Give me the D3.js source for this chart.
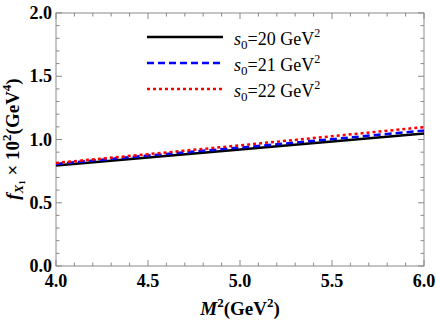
<!DOCTYPE html>
<html>
<head>
<meta charset="utf-8">
<script src="https://cdn.jsdelivr.net/npm/d3@7"></script>
<style>
body { margin: 0; background: #fff; }
</style>
</head>
<body>
<script>
// M^2 values and the three curves (s0 = 20, 21, 22 GeV^2)
let m2 = [4.0, 4.5, 5.0, 5.5, 6.0];
let f20 = [0.794, 0.858, 0.921, 0.984, 1.047];
let f21 = [0.807, 0.873, 0.936, 1.003, 1.071];
let f22 = [0.815, 0.884, 0.954, 1.026, 1.098];
let s0 = ["20", "21", "22"];
let xTicks = [4.0, 4.5, 5.0, 5.5, 6.0];
let yTicks = [0.0, 0.5, 1.0, 1.5, 2.0];

let width = 436;
let height = 327;
let plotL = 56, plotR = 424, plotT = 13, plotB = 266;

let svg = d3.select("body")
    .append("svg")
    .attr("width", width)
    .attr("height", height)
    .style("font-family", "'Liberation Serif', serif");

let scaleX = d3.scaleLinear().domain([4, 6]).range([plotL, plotR]);
let scaleY = d3.scaleLinear().domain([0, 2]).range([plotB, plotT]);

let frameColor = "#8a8a8a";

// minor + major ticks on all four sides
let minorX = d3.range(40, 61).map(d => d / 10);
let minorY = d3.range(0, 21).map(d => d / 10);

function isMajor(v) { return Math.abs(v * 2 - Math.round(v * 2)) < 1e-6; }

let ticks = svg.append("g").attr("stroke", frameColor).attr("stroke-width", 1);
minorX.forEach(v => {
    let len = isMajor(v) ? 6 : 3.5;
    let x = scaleX(v);
    ticks.append("line").attr("x1", x).attr("x2", x).attr("y1", plotB).attr("y2", plotB - len);
    ticks.append("line").attr("x1", x).attr("x2", x).attr("y1", plotT).attr("y2", plotT + len);
});
minorY.forEach(v => {
    let len = isMajor(v) ? 6 : 3.5;
    let y = scaleY(v);
    ticks.append("line").attr("x1", plotL).attr("x2", plotL + len).attr("y1", y).attr("y2", y);
    ticks.append("line").attr("x1", plotR).attr("x2", plotR - len).attr("y1", y).attr("y2", y);
});

svg.append("rect")
    .attr("x", plotL).attr("y", plotT)
    .attr("width", plotR - plotL).attr("height", plotB - plotT)
    .attr("fill", "none").attr("stroke", frameColor).attr("stroke-width", 1);

// tick labels
svg.append("g").selectAll("text").data(xTicks).join("text")
    .attr("x", d => scaleX(d))
    .attr("y", 287)
    .attr("text-anchor", "middle")
    .attr("font-size", 18).attr("font-weight", "bold")
    .text(d => d.toFixed(1));
svg.append("g").selectAll("text").data(yTicks).join("text")
    .attr("x", plotL - 4)
    .attr("y", d => scaleY(d) + 6)
    .attr("text-anchor", "end")
    .attr("font-size", 18).attr("font-weight", "bold")
    .text(d => d.toFixed(1));

// curves
let series = [
    { v: f20, color: "#000", dash: null },
    { v: f21, color: "#0000ff", dash: "7,4" },
    { v: f22, color: "#ff0000", dash: "3,3" }
];
let line = d3.line().x(d => scaleX(d[0])).y(d => scaleY(d[1])).curve(d3.curveMonotoneX);
series.forEach(s => {
    svg.append("path")
        .datum(m2.map((x, i) => [x, s.v[i]]))
        .attr("d", line)
        .attr("fill", "none")
        .attr("stroke", s.color)
        .attr("stroke-width", 2.5)
        .attr("stroke-dasharray", s.dash);
});

// legend
let legendY = [37, 63, 89];
series.forEach((s, i) => {
    svg.append("line")
        .attr("x1", 147).attr("x2", 223)
        .attr("y1", legendY[i]).attr("y2", legendY[i])
        .attr("stroke", s.color).attr("stroke-width", 2.5)
        .attr("stroke-dasharray", s.dash);
    let t = svg.append("text")
        .attr("x", 234).attr("y", legendY[i] + 8)
        .attr("font-size", 18);
    t.append("tspan").attr("font-style", "italic").text("s");
    t.append("tspan").attr("font-size", 13).attr("dy", 4).text("0");
    t.append("tspan").attr("dy", -4).text("=" + s0[i] + " GeV");
    t.append("tspan").attr("font-size", 12).attr("dy", -8).text("2");
});

// x axis label
let xl = svg.append("text")
    .attr("x", 240).attr("y", 315)
    .attr("text-anchor", "middle")
    .attr("font-size", 19).attr("font-weight", "bold");
xl.append("tspan").attr("font-style", "italic").text("M");
xl.append("tspan").attr("font-size", 13).attr("dy", -8).text("2");
xl.append("tspan").attr("dy", 8).text("(GeV");
xl.append("tspan").attr("font-size", 13).attr("dy", -8).text("2");
xl.append("tspan").attr("dy", 8).text(")");

// y axis label
let yl = svg.append("text")
    .attr("transform", "translate(19,139) rotate(-90)")
    .attr("text-anchor", "middle")
    .attr("font-size", 19).attr("font-weight", "bold");
yl.append("tspan").attr("font-style", "italic").text("f");
yl.append("tspan").attr("font-style", "italic").attr("font-size", 13).attr("dy", 4).text("X");
yl.append("tspan").attr("font-size", 9).attr("dy", 2).text("1");
yl.append("tspan").attr("dy", -6).text(" × 10");
yl.append("tspan").attr("font-size", 13).attr("dy", -8).text("2");
yl.append("tspan").attr("dy", 8).text("(GeV");
yl.append("tspan").attr("font-size", 13).attr("dy", -8).text("4");
yl.append("tspan").attr("dy", 8).text(")");
</script>
</body>
</html>
